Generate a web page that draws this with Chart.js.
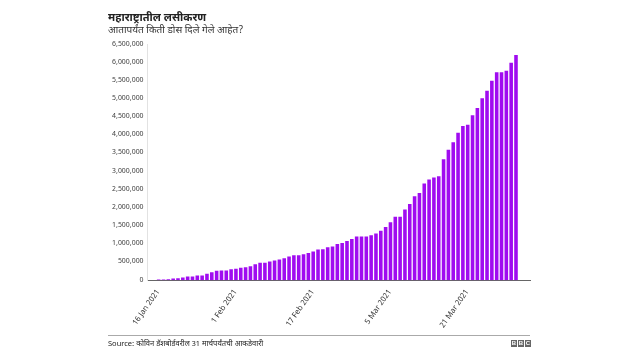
<!DOCTYPE html>
<html>
<head>
<meta charset="utf-8">
<script src="https://cdn.jsdelivr.net/npm/chart.js@4.4.1/dist/chart.umd.min.js"></script>
<style>
  html, body { margin: 0; padding: 0; background: #fff; }
  #wrap { position: relative; width: 640px; height: 360px; font-family: "Noto Sans Devanagari", "Liberation Sans", Arial, sans-serif; }
  canvas { position: absolute; left: 0; top: 0; }
  #rule { position: absolute; left: 108px; top: 335px; width: 422px; height: 1px; background: #aaa; }
  #source { position: absolute; left: 108px; top: 339px; font-size: 7.5px; color: #222; white-space: nowrap; }
  #bbc { position: absolute; left: 511px; top: 340px; display: flex; gap: 1px; }
  #bbc span { display: block; width: 6px; height: 7px; background: #666; color: #fff; font: bold 6px "Liberation Sans", Arial, sans-serif; text-align: center; line-height: 7px; }
</style>
</head>
<body>
<div id="wrap">
  <canvas id="chart" width="640" height="360"></canvas>
  <div id="rule"></div>
  <div id="source">Source: कोविन डॅशबोर्डवरील 31 मार्चपर्यंतची आकडेवारी</div>
  <div id="bbc"><span>B</span><span>B</span><span>C</span></div>
</div>
<script>
// Cumulative doses, one bar per day from 16 Jan 2021
const doses = [
  18000, 20000, 27000, 47000, 55000, 74000, 100000, 100000, 130000, 130000,
  175000, 220000, 258000, 267000, 267000, 302000, 313000, 345000, 357000, 385000,
  440000, 477000, 477000, 513000, 541000, 568000, 605000, 650000, 687000, 687000,
  715000, 752000, 788000, 843000, 852000, 907000, 925000, 995000, 1027000, 1082000,
  1137000, 1200000, 1200000, 1200000, 1236000, 1283000, 1365000, 1466000, 1593000, 1750000,
  1750000, 1950000, 2100000, 2310000, 2400000, 2660000, 2770000, 2825000, 2860000, 3330000,
  3590000, 3800000, 4060000, 4250000, 4280000, 4540000, 4740000, 5010000, 5220000, 5490000,
  5730000, 5730000, 5770000, 5990000, 6200000
];

// day index of each labelled tick, and its label
const tickDays = [0, 16, 32, 48, 64];
const tickLabels = ['16 Jan 2021', '1 Feb 2021', '17 Feb 2021', '5 Mar 2021', '21 Mar 2021'];

const titleText = 'महाराष्ट्रातील लसीकरण';
const subtitleText = 'आतापर्यंत किती डोस दिले गेले आहेत?';

const FONT = '"Noto Sans Devanagari", "Liberation Sans", Arial, sans-serif';

const points = doses.map((v, i) => ({ x: i, y: v }));

new Chart(document.getElementById('chart'), {
  type: 'bar',
  data: {
    datasets: [{
      data: points,
      backgroundColor: '#a00cf0',
      barPercentage: 0.74,
      categoryPercentage: 1.0
    }]
  },
  options: {
    responsive: false,
    animation: false,
    devicePixelRatio: 1,
    layout: { padding: { left: 108, right: 110, top: 12, bottom: 22 } },
    plugins: {
      legend: { display: false },
      tooltip: { enabled: false },
      title: {
        display: true,
        text: titleText,
        align: 'start',
        color: '#222',
        font: { family: FONT, size: 11, weight: 'bold' },
        padding: { top: 0, bottom: 0 }
      },
      subtitle: {
        display: true,
        text: subtitleText,
        align: 'start',
        color: '#333',
        font: { family: FONT, size: 10 },
        padding: { top: 0, bottom: 7 }
      }
    },
    scales: {
      x: {
        type: 'linear',
        min: -2.3,
        max: 76.9,
        offset: false,
        bounds: 'data',
        grid: { display: false, drawTicks: false, offset: false },
        border: { display: true, color: '#666', width: 1 },
        afterBuildTicks: (scale) => {
          scale.ticks = tickDays.map(d => ({ value: d }));
        },
        afterFit: (scale) => {
          scale.paddingLeft = 0;
          scale.paddingRight = 0;
        },
        ticks: {
          autoSkip: false,
          minRotation: 55,
          maxRotation: 55,
          padding: 8,
          color: '#333',
          font: { family: FONT, size: 7.8 },
          callback: (value) => tickLabels[tickDays.indexOf(value)]
        }
      },
      y: {
        min: 0,
        max: 6500000,
        grid: { display: false, drawTicks: false },
        border: { display: true, color: '#e2e2e2', width: 1 },
        ticks: {
          stepSize: 500000,
          padding: 4,
          color: '#444',
          font: { family: FONT, size: 7.2 },
          callback: (value) => value.toLocaleString('en-US')
        }
      }
    }
  }
});
</script>
</body>
</html>
